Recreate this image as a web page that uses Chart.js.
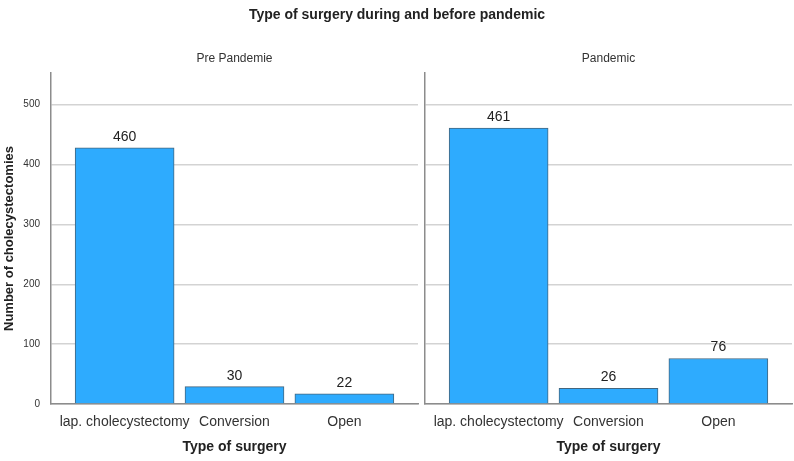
<!DOCTYPE html>
<html>
<head>
<meta charset="utf-8">
<script src="https://cdn.jsdelivr.net/npm/chart.js@4"></script>
<style>
  body { margin: 0; background: #fff; }
  #wrap { position: relative; width: 794px; height: 461px; }
  #title { position: absolute; left: 0; top: 6px; width: 794px; text-align: center;
           font: bold 14px "Liberation Sans", Arial, sans-serif; color: #222; }
  .panel { position: absolute; top: 0; height: 461px; }
</style>
</head>
<body>
<div id="wrap">
  <div class="panel" style="left:0;width:421px"><canvas id="pre"></canvas></div>
  <div class="panel" style="left:421px;width:373px"><canvas id="pan"></canvas></div>
  <div id="title">Type of surgery during and before pandemic</div>
</div>
<script>
const surgeryTypes = ['lap. cholecystectomy', 'Conversion', 'Open'];
// bar heights as drawn, and the numbers printed above them
const preBars = [428, 29, 17];
const preLabels = [460, 30, 22];
const pandemicBars = [461, 26, 76];
const pandemicLabels = [461, 26, 76];
const yTicks = [0, 100, 200, 300, 400, 500];
const yMax = 553;

const SANS = '"Liberation Sans", Arial, sans-serif';

function drawPanel(id, header, bars, labels, showY) {
  const ctx = document.getElementById(id);

  const valueLabels = {
    id: 'valueLabels',
    afterDatasetsDraw(chart) {
      const c = chart.ctx;
      const meta = chart.getDatasetMeta(0);
      c.save();
      c.font = '14px ' + SANS;
      c.fillStyle = '#222';
      c.textAlign = 'center';
      c.textBaseline = 'middle';
      meta.data.forEach((bar, i) => c.fillText(String(labels[i]), bar.x, bar.y - 11));
      c.restore();
    }
  };

  new Chart(ctx, {
    type: 'bar',
    data: {
      datasets: [{
        data: bars.map((v, i) => ({ x: i, y: v })),
        backgroundColor: '#2eabfe',
        borderColor: '#44667e',
        borderWidth: 1,
        barThickness: 99
      }]
    },
    options: {
      responsive: true,
      maintainAspectRatio: false,
      animation: false,
      layout: { padding: { left: 0, right: showY ? 3 : 2, top: 0, bottom: 0 } },
      plugins: {
        legend: { display: false },
        tooltip: { enabled: false },
        title: {
          display: true,
          text: header,
          fullSize: false,
          color: '#333',
          font: { family: SANS, size: 12, weight: 'normal' },
          padding: { top: 51, bottom: 7.6 }
        }
      },
      scales: {
        x: {
          type: 'linear',
          min: -0.67,
          max: 2.67,
          offset: false,
          grid: { display: false, drawTicks: false, offset: false },
          border: { color: '#8c8c8c', width: 1.5 },
          afterBuildTicks: s => { s.ticks = surgeryTypes.map((_, i) => ({ value: i })); },
          afterFit: s => { s.height = 57; },
          ticks: {
            callback: v => surgeryTypes[v],
            font: { family: SANS, size: 14 },
            color: '#333',
            padding: 10,
            maxRotation: 0,
            autoSkip: false
          },
          title: {
            display: true,
            text: 'Type of surgery',
            color: '#222',
            font: { family: SANS, size: 14, weight: 'bold' },
            padding: { top: 0, bottom: 5 }
          }
        },
        y: {
          min: 0,
          max: yMax,
          afterBuildTicks: s => { s.ticks = yTicks.map(v => ({ value: v })); },
          afterFit: s => { s.width = showY ? 51 : 4; },
          grid: { color: '#d3d3d3', lineWidth: 1.5, drawTicks: false },
          border: { color: '#8c8c8c', width: 1.5 },
          ticks: {
            display: showY,
            padding: 11,
            color: '#333',
            font: { family: SANS, size: 10 }
          },
          title: {
            display: showY,
            text: 'Number of cholecystectomies',
            color: '#222',
            font: { family: SANS, size: 13, weight: 'bold' },
            padding: { top: 2, bottom: 0 }
          }
        }
      }
    },
    plugins: [valueLabels]
  });
}

drawPanel('pre', 'Pre Pandemie', preBars, preLabels, true);
drawPanel('pan', 'Pandemic', pandemicBars, pandemicLabels, false);
</script>
</body>
</html>
